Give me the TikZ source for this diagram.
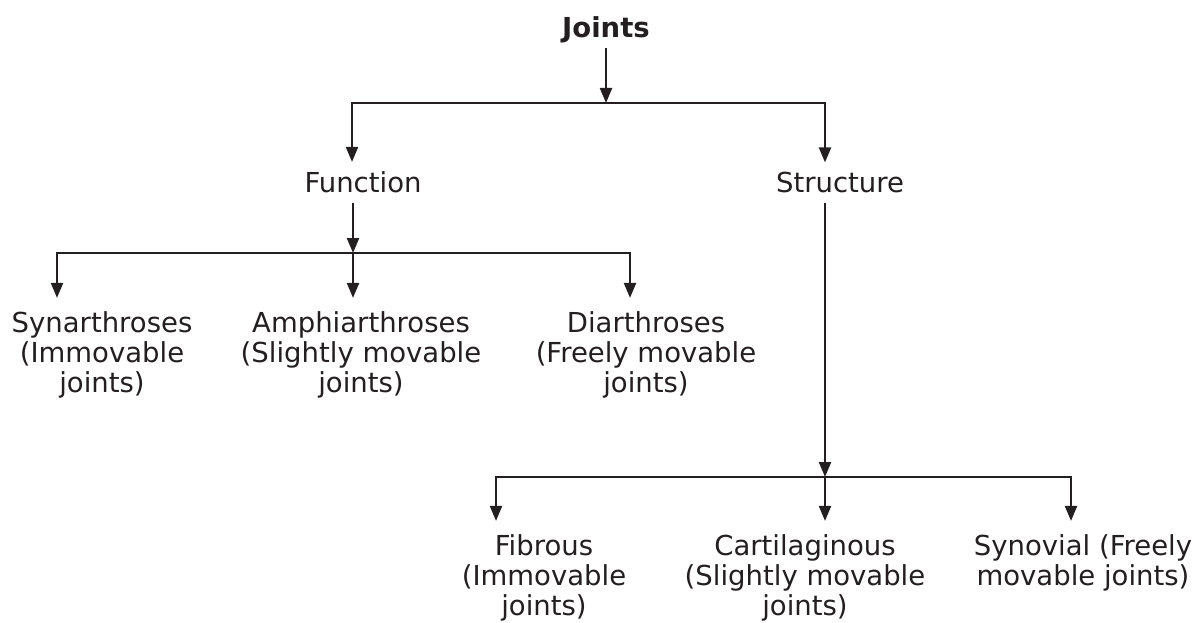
\documentclass[tikz,border=0pt]{standalone}
\usepackage{fontspec}
\setmainfont{DejaVu Sans}
\usetikzlibrary{arrows.meta}
\definecolor{ink}{HTML}{231F20}
\begin{document}
\begin{tikzpicture}[x=1pt,y=-1pt,
  lbl/.style={font=\fontsize{27.5}{30}\selectfont, text=ink, align=center, inner sep=0pt, anchor=base},
  wire/.style={draw=ink, line width=2.2pt, line cap=rect},
  arr/.style={draw=ink, line width=2.2pt, -{Triangle[length=15pt,width=12pt]}}]
\useasboundingbox (0,0) rectangle (1202,623);

% nodes (base anchor = baseline of last line)
\node[lbl, font=\bfseries\fontsize{27.5}{30}\selectfont] (joints) at (606,38) {Joints};
\node[lbl] (function) at (363,193) {Function};
\node[lbl] (structure) at (840,193) {Structure};
\node[lbl] (syn) at (102,392) {Synarthroses\\(Immovable\\joints)};
\node[lbl] (amph) at (361,392) {Amphiarthroses\\(Slightly movable\\joints)};
\node[lbl] (diar) at (646,392) {Diarthroses\\(Freely movable\\joints)};
\node[lbl] (fib) at (544,615) {Fibrous\\(Immovable\\joints)};
\node[lbl] (cart) at (805,615) {Cartilaginous\\(Slightly movable\\joints)};
\node[lbl] (syno) at (1083,585) {Synovial (Freely\\movable joints)};

% bar coordinates
\coordinate (jm) at (606,103);
\coordinate (jl) at (352,103);
\coordinate (jr) at (825,103);
\coordinate (fl) at (57,253);
\coordinate (fm) at (353,253);
\coordinate (fr) at (630,253);
\coordinate (sl) at (496,477);
\coordinate (sm) at (825,477);
\coordinate (sr) at (1071,477);

% level 1
\draw[arr, shorten <=4pt] (jm |- joints.south) -- (jm);
\draw[wire] (jl) -- (jr);
\draw[arr, shorten >=10pt] (jl) -- (jl |- function.north);
\draw[arr, shorten >=10pt] (jr) -- (jr |- structure.north);

% function branch
\draw[arr, shorten <=9pt] (fm |- function.south) -- (fm);
\draw[wire] (fl) -- (fr);
\draw[arr, shorten >=13pt] (fl) -- (fl |- syn.north);
\draw[arr, shorten >=13pt] (fm) -- (fm |- amph.north);
\draw[arr, shorten >=13pt] (fr) -- (fr |- diar.north);

% structure branch
\draw[arr, shorten <=9pt] (sm |- structure.south) -- (sm);
\draw[wire] (sl) -- (sr);
\draw[arr, shorten >=13pt] (sl) -- (sl |- fib.north);
\draw[arr, shorten >=13pt] (sm) -- (sm |- cart.north);
\draw[arr, shorten >=13pt] (sr) -- (sr |- syno.north);
\end{tikzpicture}
\end{document}
